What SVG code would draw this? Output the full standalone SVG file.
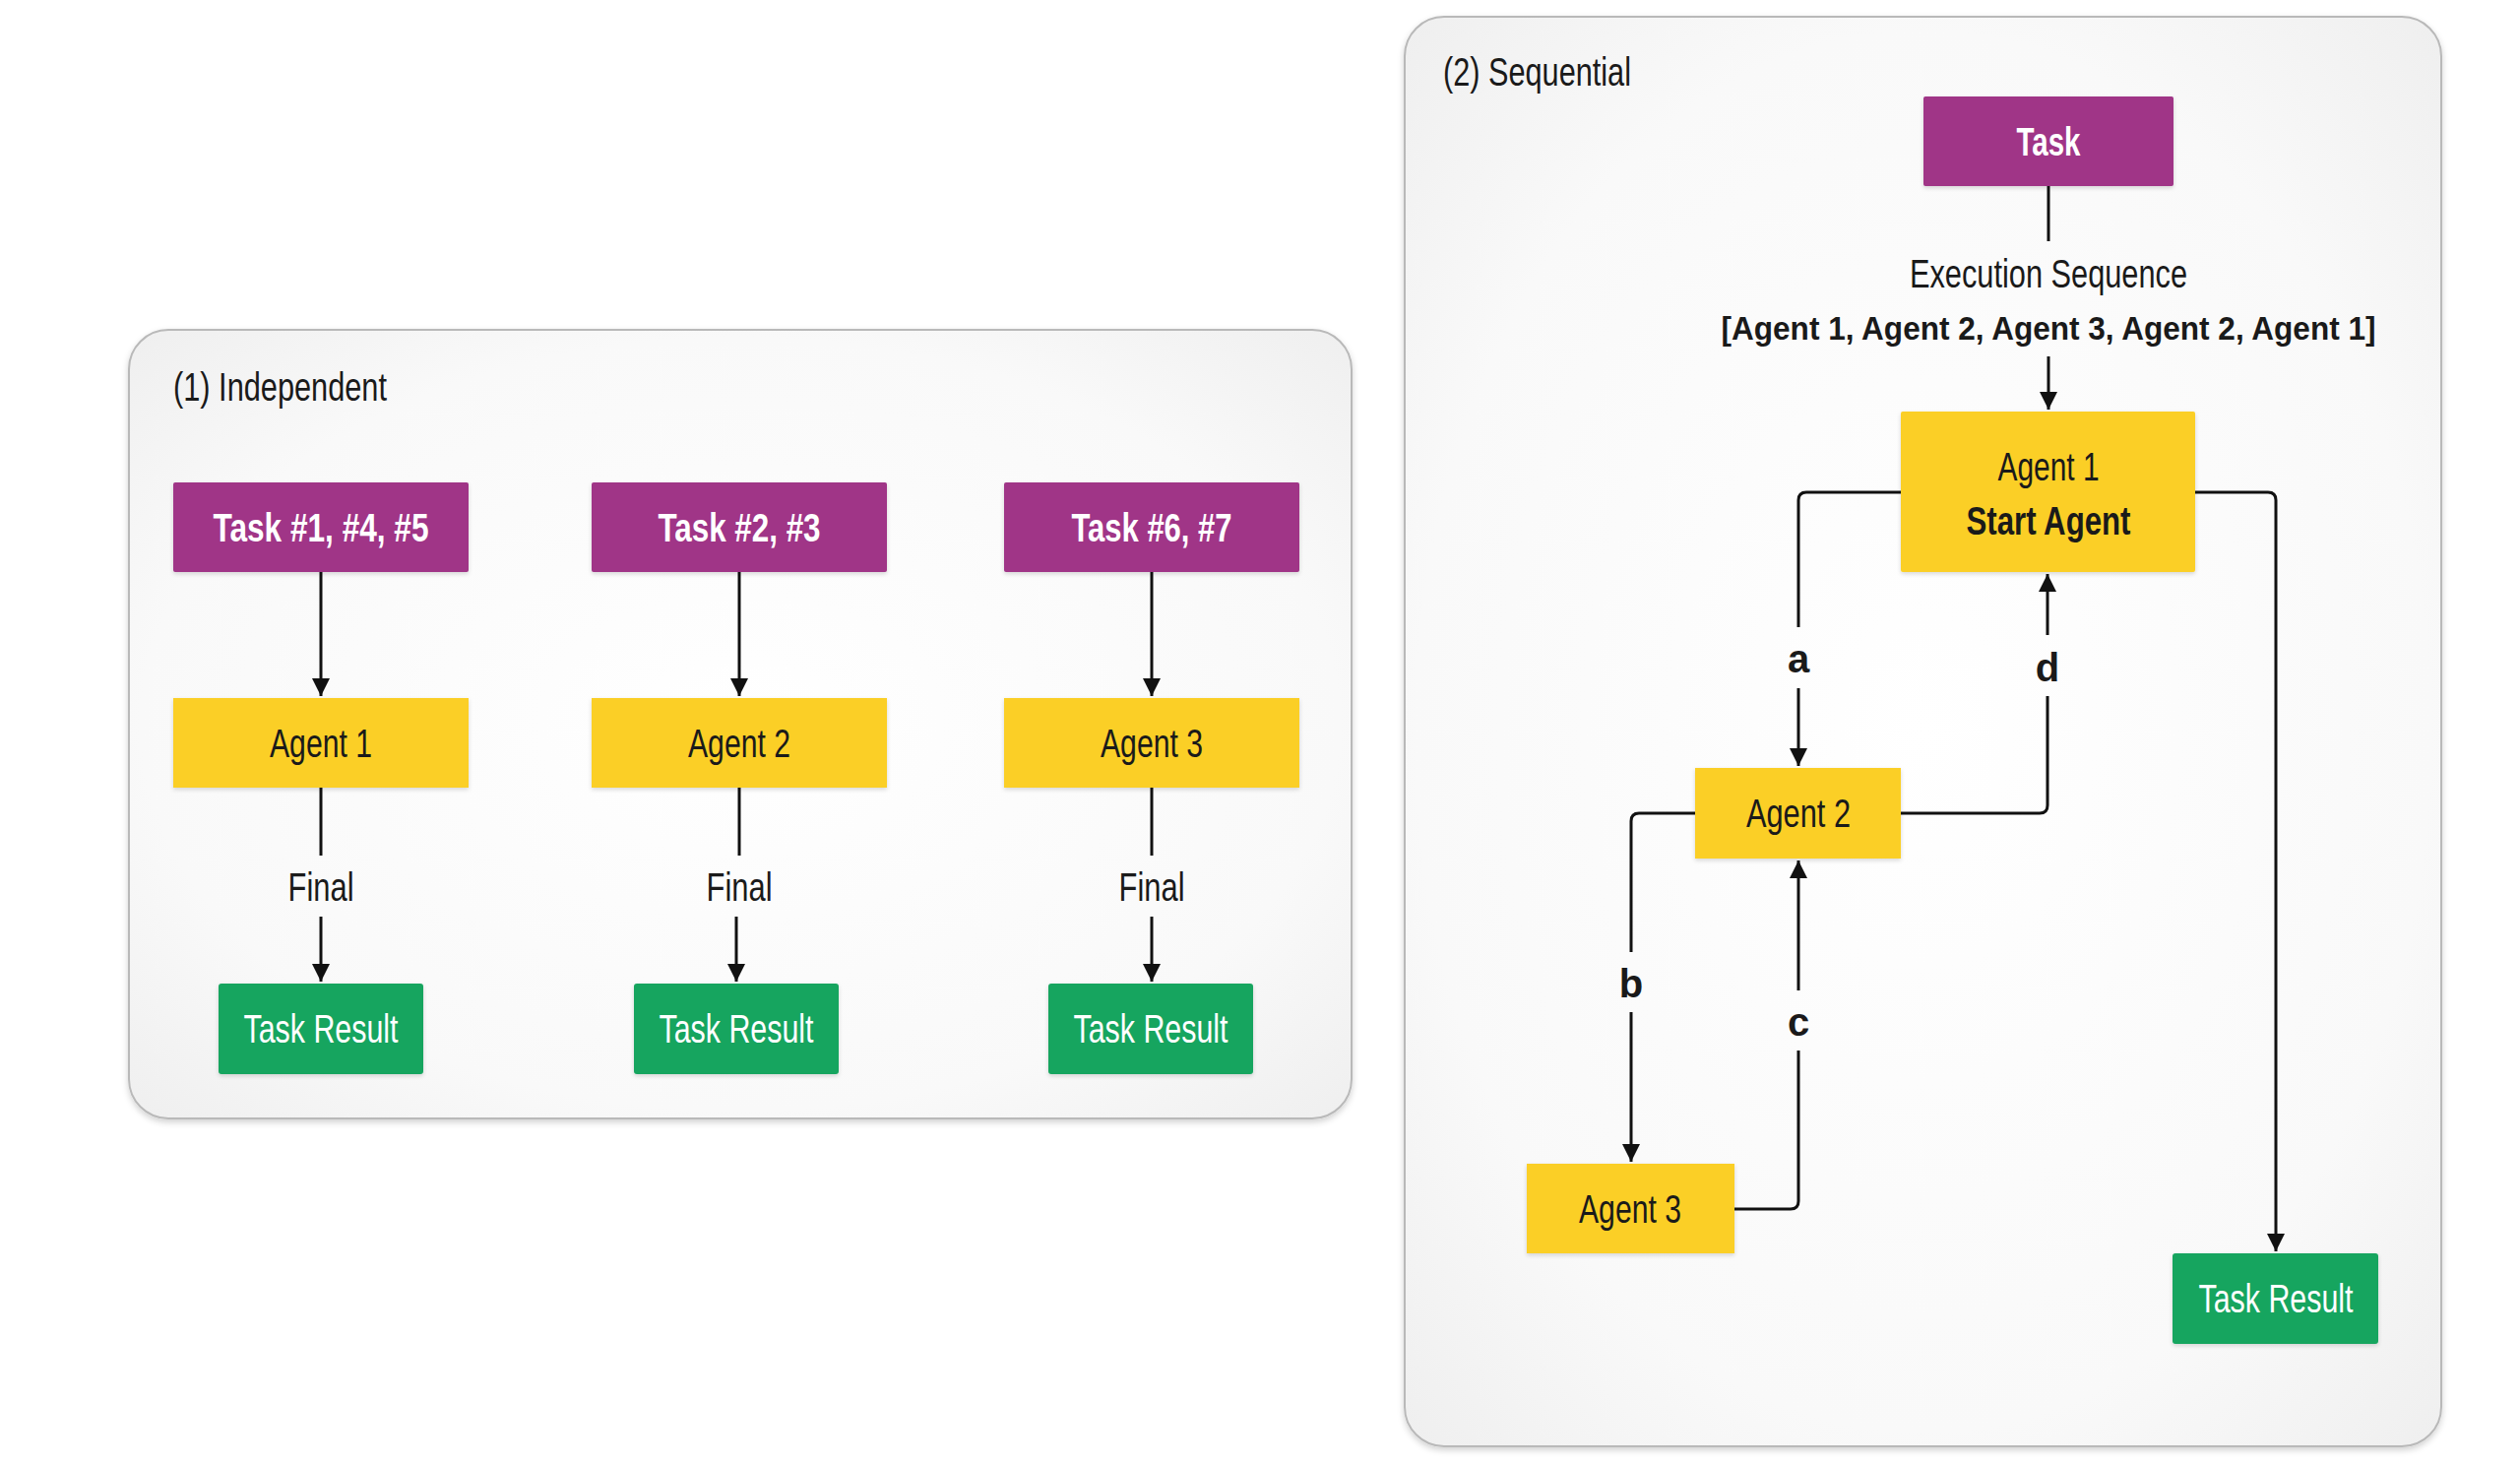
<svg xmlns="http://www.w3.org/2000/svg" width="2560" height="1488" viewBox="0 0 2560 1488">
<defs>
<radialGradient id="pbg" cx="50%" cy="50%" r="70%">
<stop offset="0" stop-color="#ffffff"/>
<stop offset="0.7" stop-color="#f9f9f9"/>
<stop offset="1" stop-color="#efefef"/>
</radialGradient>
<filter id="psh" x="-5%" y="-5%" width="110%" height="110%">
<feDropShadow dx="0" dy="3" stdDeviation="3" flood-color="#000" flood-opacity="0.18"/>
</filter>
<filter id="bsh" x="-10%" y="-10%" width="120%" height="130%">
<feDropShadow dx="0" dy="2" stdDeviation="2" flood-color="#000" flood-opacity="0.15"/>
</filter>
<marker id="arr" viewBox="0 0 10 10" refX="10" refY="5" markerWidth="6.5" markerHeight="6" markerUnits="strokeWidth" orient="auto">
<path d="M0,0 L10,5 L0,10 z" fill="#111"/>
</marker>
</defs>
<style>
text{font-family:"Liberation Sans",Arial,sans-serif;font-size:40px;fill:#1a1a1a;text-anchor:middle;dominant-baseline:central}
.title{text-anchor:start}
.seq{font-size:34px}
.panel{fill:url(#pbg);stroke:#b9b9b9;stroke-width:2;filter:url(#psh)}
.task{fill:#a03587;filter:url(#bsh)}
.agent{fill:#fbcf26;filter:url(#bsh)}
.result{fill:#17a55e;filter:url(#bsh)}
.wt{fill:#ffffff}
.b{font-weight:bold}
.ln{fill:none;stroke:#111;stroke-width:3}
.ar{fill:none;stroke:#111;stroke-width:3;marker-end:url(#arr)}
</style>
<rect width="2560" height="1488" fill="#ffffff"/>

<g id="panel-independent">
<rect class="panel" x="131" y="335" width="1242" height="801" rx="40"/>
<text class="title" x="176" y="393" textLength="217" lengthAdjust="spacingAndGlyphs">(1) Independent</text>
</g>
<g id="panel-sequential">
<rect class="panel" x="1427" y="17" width="1053" height="1452" rx="40"/>
<text class="title" x="1466" y="73" textLength="191" lengthAdjust="spacingAndGlyphs">(2) Sequential</text>
</g>

<g id="connectors">
<line class="ar" x1="326" y1="581" x2="326" y2="707"/>
<line class="ar" x1="751" y1="581" x2="751" y2="707"/>
<line class="ar" x1="1170" y1="581" x2="1170" y2="707"/>
<line class="ln" x1="326" y1="800" x2="326" y2="869"/>
<line class="ar" x1="326" y1="931" x2="326" y2="997"/>
<line class="ln" x1="751" y1="800" x2="751" y2="869"/>
<line class="ar" x1="748" y1="931" x2="748" y2="997"/>
<line class="ln" x1="1170" y1="800" x2="1170" y2="869"/>
<line class="ar" x1="1170" y1="931" x2="1170" y2="997"/>
<text x="326" y="901" textLength="67" lengthAdjust="spacingAndGlyphs">Final</text>
<text x="751" y="901" textLength="67" lengthAdjust="spacingAndGlyphs">Final</text>
<text x="1170" y="901" textLength="67" lengthAdjust="spacingAndGlyphs">Final</text>

<line class="ln" x1="2081" y1="189" x2="2081" y2="245"/>
<line class="ar" x1="2081" y1="362" x2="2081" y2="416"/>
<text x="2081" y="278" textLength="282" lengthAdjust="spacingAndGlyphs">Execution Sequence</text>
<text class="b seq" x="2081" y="333" textLength="665" lengthAdjust="spacingAndGlyphs">[Agent 1, Agent 2, Agent 3, Agent 2, Agent 1]</text>

<path class="ln" d="M1931,500 H1835 Q1827,500 1827,508 V637"/>
<line class="ar" x1="1827" y1="699" x2="1827" y2="778"/>
<text class="b" x="1827" y="669">a</text>

<path class="ln" d="M1722,826 H1665 Q1657,826 1657,834 V967"/>
<line class="ar" x1="1657" y1="1028" x2="1657" y2="1180"/>
<text class="b" x="1657" y="999">b</text>

<path class="ln" d="M1762,1228 H1819 Q1827,1228 1827,1220 V1067"/>
<line class="ar" x1="1827" y1="1006" x2="1827" y2="874"/>
<text class="b" x="1827" y="1038">c</text>

<path class="ln" d="M1931,826 H2072 Q2080,826 2080,818 V707"/>
<line class="ar" x1="2080" y1="645" x2="2080" y2="583"/>
<text class="b" x="2080" y="678">d</text>

<path class="ar" d="M2230,500 H2304 Q2312,500 2312,508 V1271"/>
</g>

<g id="task-1">
<rect class="task" x="176" y="490" width="300" height="91" rx="2"/>
<text class="wt b" x="326" y="536" textLength="219" lengthAdjust="spacingAndGlyphs">Task #1, #4, #5</text>
</g>
<g id="task-2">
<rect class="task" x="601" y="490" width="300" height="91" rx="2"/>
<text class="wt b" x="751" y="536" textLength="165" lengthAdjust="spacingAndGlyphs">Task #2, #3</text>
</g>
<g id="task-3">
<rect class="task" x="1020" y="490" width="300" height="91" rx="2"/>
<text class="wt b" x="1170" y="536" textLength="163" lengthAdjust="spacingAndGlyphs">Task #6, #7</text>
</g>
<g id="agent-1-ind">
<rect class="agent" x="176" y="709" width="300" height="91"/>
<text x="326" y="755" textLength="104" lengthAdjust="spacingAndGlyphs">Agent 1</text>
</g>
<g id="agent-2-ind">
<rect class="agent" x="601" y="709" width="300" height="91"/>
<text x="751" y="755" textLength="104" lengthAdjust="spacingAndGlyphs">Agent 2</text>
</g>
<g id="agent-3-ind">
<rect class="agent" x="1020" y="709" width="300" height="91"/>
<text x="1170" y="755" textLength="104" lengthAdjust="spacingAndGlyphs">Agent 3</text>
</g>
<g id="result-1">
<rect class="result" x="222" y="999" width="208" height="92" rx="3"/>
<text class="wt" x="326" y="1045" textLength="157" lengthAdjust="spacingAndGlyphs">Task Result</text>
</g>
<g id="result-2">
<rect class="result" x="644" y="999" width="208" height="92" rx="3"/>
<text class="wt" x="748" y="1045" textLength="157" lengthAdjust="spacingAndGlyphs">Task Result</text>
</g>
<g id="result-3">
<rect class="result" x="1065" y="999" width="208" height="92" rx="3"/>
<text class="wt" x="1169" y="1045" textLength="157" lengthAdjust="spacingAndGlyphs">Task Result</text>
</g>

<g id="task-seq">
<rect class="task" x="1954" y="98" width="254" height="91" rx="2"/>
<text class="wt b" x="2081" y="144" textLength="65" lengthAdjust="spacingAndGlyphs">Task</text>
</g>
<g id="agent-1-seq">
<rect class="agent" x="1931" y="418" width="299" height="163" rx="2"/>
<text x="2081" y="474" textLength="103" lengthAdjust="spacingAndGlyphs">Agent 1</text>
<text class="b" x="2081" y="529" textLength="167" lengthAdjust="spacingAndGlyphs">Start Agent</text>
</g>
<g id="agent-2-seq">
<rect class="agent" x="1722" y="780" width="209" height="92"/>
<text x="1827" y="826" textLength="106" lengthAdjust="spacingAndGlyphs">Agent 2</text>
</g>
<g id="agent-3-seq">
<rect class="agent" x="1551" y="1182" width="211" height="91"/>
<text x="1656" y="1228" textLength="104" lengthAdjust="spacingAndGlyphs">Agent 3</text>
</g>
<g id="result-seq">
<rect class="result" x="2207" y="1273" width="209" height="92" rx="3"/>
<text class="wt" x="2312" y="1319" textLength="157" lengthAdjust="spacingAndGlyphs">Task Result</text>
</g>
</svg>
